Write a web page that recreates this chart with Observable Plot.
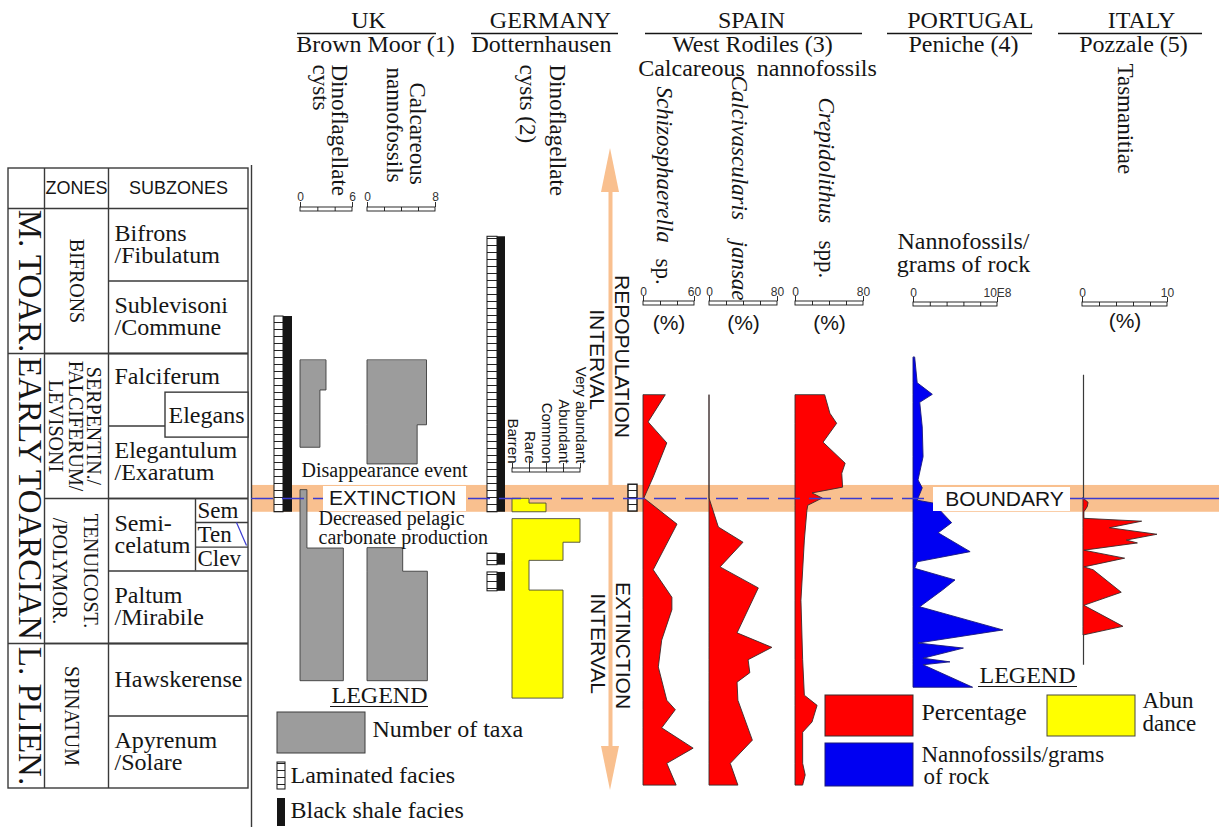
<!DOCTYPE html>
<html>
<head>
<meta charset="utf-8">
<title>Early Toarcian extinction and repopulation of marine microplankton</title>
<script src="https://cdn.jsdelivr.net/npm/d3@7"></script>
<script src="https://cdn.jsdelivr.net/npm/@observablehq/plot@0.6"></script>
<style>
  html, body { margin: 0; padding: 0; background: #fff; }
  #chart svg { display: block; }
</style>
</head>
<body>
<div id="chart"></div>
<script>
// Stratigraphic heights are in ammonite-subzone units above the base of the
// Apyrenum/Solare subzone (each subzone = 1 unit).

// ---------- ammonite biozonation ----------
const stages = [
  {name: "L. PLIEN.", base: 0, top: 2},
  {name: "EARLY TOARCIAN", base: 2, top: 6},
  {name: "M. TOAR.", base: 6, top: 8}
];
const zones = [
  {lines: ["SPINATUM"], base: 0, top: 2},
  {lines: ["TENUICOST.", "/POLYMOR."], base: 2, top: 4},
  {lines: ["SERPENTIN./", "FALCIFERUM/", "LEVISONI"], base: 4, top: 6},
  {lines: ["BIFRONS"], base: 6, top: 8}
];
const subzones = [
  {name: "Apyrenum\n/Solare", base: 0, top: 1},
  {name: "Hawskerense", base: 1, top: 2},
  {name: "Paltum\n/Mirabile", base: 2, top: 3},
  {name: "Semi-\ncelatum", base: 3, top: 4},
  {name: "Elegantulum\n/Exaratum", base: 4, top: 5},
  {name: "Falciferum", base: 5, top: 6},
  {name: "Sublevisoni\n/Commune", base: 6, top: 7},
  {name: "Bifrons\n/Fibulatum", base: 7, top: 8}
];
const semicelatumHorizons = [
  {name: "Clev", base: 3, top: 3.33},
  {name: "Ten", base: 3.33, top: 3.67},
  {name: "Sem", base: 3.67, top: 4}
];
const elegans = [{name: "Elegans", base: 4.84, top: 5.46}];
const tableHeads = ["ZONES", "SUBZONES"];

// ---------- sections ----------
const countries = ["UK", "GERMANY", "SPAIN", "PORTUGAL", "ITALY"];
const sections = ["Brown Moor (1)", "Dotternhausen", "West Rodiles (3)", "Peniche (4)", "Pozzale (5)"];

// extinction boundary interval and the boundary itself
const boundaryBand = [{base: 3.81, top: 4.18}];
const boundaryLevel = 4;

// facies logs [top, base]
const brownMoorFacies = [{top: 6.51, base: 3.81}];
const dotternhausenFacies = [{top: 7.61, base: 3.81}, {top: 3.24, base: 3.08}, {top: 2.98, base: 2.72}];
const rodilesFacies = [{top: 4.19, base: 3.82}];

// Brown Moor number of taxa: blocks of [top, base, taxa]
const brownMoorDinocysts = [
  [[5.90, 5.49, 3], [5.49, 4.70, 2.3]],
  [[4.11, 3.31, 0.8], [3.31, 1.48, 5]]
];
const brownMoorNannofossils = [
  [[5.90, 5.01, 7], [5.01, 4.47, 5.9]],
  [[3.31, 2.99, 4.2], [2.99, 1.48, 7.1]]
];

// Dotternhausen dinocyst abundance class: blocks of [top, base, class]
const abundanceClasses = ["Barren", "Rare", "Common", "Abundant", "Very abundant"];
const dotternhausenAbundance = [
  [[3.99, 3.93, 1], [3.93, 3.81, 2]],
  [[3.71, 3.39, 4], [3.39, 3.14, 3], [3.14, 2.73, 1], [2.73, 1.24, 3]]
];

// West Rodiles calcareous nannofossils, [height, %]
const schizosphaerella = [
  [5.42, 26], [5.05, 6], [4.76, 28], [4.29, 12], [4.00, 1], [3.64, 40], [3.01, 12],
  [2.63, 34], [2.46, 34], [2.04, 22], [1.67, 18], [1.21, 28], [1.08, 38], [0.83, 22],
  [0.55, 59], [0.34, 28], [0.04, 39]
];
const calcivascularis = [
  [5.42, 0], [4.00, 0], [3.60, 11], [3.39, 40], [3.05, 13], [2.76, 58], [2.14, 33],
  [1.94, 74], [1.77, 46], [1.59, 48], [1.46, 33], [1.21, 34], [0.66, 51], [0.34, 25],
  [0.04, 34]
];
const crepidolithus = [
  [5.42, 35], [5.17, 41], [5.03, 49], [4.77, 33], [4.48, 59], [4.34, 55], [4.15, 56],
  [4.07, 20], [4.00, 32], [3.90, 15], [3.83, 14], [3.42, 11], [2.59, 7], [1.77, 9],
  [1.28, 11], [1.14, 26], [0.91, 20], [0.77, 9], [0.34, 9], [0.18, 12], [0.04, 9]
];

// Peniche nannofossils per gram of rock, [height, x10^8]
const peniche = [
  [5.94, 0.2], [5.59, 0.5], [5.43, 2.3], [5.32, 0.8], [4.98, 1.1], [4.57, 1.2], [4.25, 0.6],
  [4.14, 1.1], [3.97, 0.5], [3.93, 2.4], [3.66, 4.6], [3.52, 3.0], [3.26, 6.8], [3.12, 0.5],
  [3.03, 0.2], [2.87, 5.0], [2.73, 3.5], [2.50, 0.8], [2.18, 10.7], [2.00, 0.6], [1.93, 6.0],
  [1.79, 1.2], [1.74, 4.4], [1.70, 1.2], [1.39, 7.1]
];

// Pozzale Tasmanitiae, [height, %]
const pozzaleRange = [1.70, 5.70];
const pozzale = [
  [4.00, 0], [3.94, 0.6], [3.88, 0.5], [3.81, 0.1], [3.72, 0.1], [3.68, 6.9], [3.59, 3.1],
  [3.50, 8.7], [3.42, 5.1], [3.38, 6.4], [3.28, 0.1], [3.17, 4.9], [3.05, 0.1], [3.01, 1.2],
  [2.70, 4.5], [2.52, 0.1], [2.23, 4.7], [2.11, 0]
];

// ---------- layout & style ----------
const W = 1219, H = 827;
const INK = "#151515", LINE = "#3a3a3a";
const ORANGE = "#f9c08f", RED = "#ff0000", BLUE = "#0000f2", YELLOW = "#ffff00", GRAY = "#9c9c9c";
const RULE_BLUE = "#3b3bd0";
const SERIF = "'Liberation Serif','Times New Roman',serif";
const SANS = "'Liberation Sans',Arial,sans-serif";
const NARROW = "'Liberation Sans Narrow','Liberation Sans',Arial,sans-serif";

const yScale = Plot.scale({y: {domain: [0, 8], range: [788, 208]}});
const at = py => yScale.invert(py);   // page offset -> stratigraphic height

const panels = {
  ukDino:  {x0: 300,  w: 52, max: 6,  div: 3, barY: 207, labelY: 197},
  ukNanno: {x0: 367,  w: 68, max: 8,  div: 4, barY: 207, labelY: 197},
  deAbund: {x0: 512,  w: 68, max: 4,  div: 4, barY: 468},
  schizo:  {x0: 643,  w: 51, max: 60, div: 3, barY: 301, labelY: 292, unitY: 323},
  calci:   {x0: 709,  w: 68, max: 80, div: 4, barY: 301, labelY: 292, unitY: 323},
  crepi:   {x0: 795,  w: 68, max: 80, div: 4, barY: 301, labelY: 292, unitY: 323},
  peniche: {x0: 913,  w: 84, max: 10, div: 5, barY: 302, labelY: 293, maxLabel: "10E8"},
  pozzale: {x0: 1082, w: 85, max: 10, div: 5, barY: 302, labelY: 293, unitY: 321}
};
const px = (p, v) => p.x0 + v * p.w / p.max;

const T = {l: 8, c1: 44, c2: 108, r: 248, top: at(168), ex: 165, sx: 195};

const marks = [];
const add = (...m) => marks.push(...m.flat());

function label(items, o = {}) {
  return Plot.text(items, {x: "x", y: d => at(d.py), text: "t", fill: INK,
    fontFamily: SERIF, fontSize: 24, ...o});
}
function profile(points, p) {
  return points.map(([h, v]) => ({h, a: p.x0, b: px(p, v)}));
}
function steps(block, p) {
  return block.flatMap(([top, base, v]) => [{h: top, a: p.x0, b: px(p, v)}, {h: base, a: p.x0, b: px(p, v)}]);
}
function area(data, fill, stroke) {
  return Plot.areaX(data, {y: "h", x1: "a", x2: "b", fill, stroke, strokeWidth: 0.9, strokeLinejoin: "miter"});
}
function scaleBar(p, upTicks = false) {
  const yTop = at(p.barY), yBot = at(p.barY + 4);
  const inner = d3.range(1, p.div).map(i => p.x0 + i * p.w / p.div);
  const ends = upTicks ? d3.range(0, p.div + 1).map(i => p.x0 + i * p.w / p.div) : [p.x0, p.x0 + p.w];
  return [
    Plot.rect([p], {x1: p.x0, x2: p.x0 + p.w, y1: yBot, y2: yTop, fill: "white", stroke: INK, strokeWidth: 0.9}),
    Plot.ruleX(inner, {y1: yBot, y2: yTop, stroke: INK, strokeWidth: 0.9}),
    Plot.ruleX(ends, {y1: yTop, y2: at(p.barY - 5), stroke: INK, strokeWidth: 0.9})
  ];
}
function scaleLabels(p) {
  const out = [label([{t: "0", x: p.x0, py: p.labelY}, {t: p.maxLabel ?? String(p.max), x: p.x0 + p.w, py: p.labelY}],
    {fontFamily: SANS, fontSize: 12, fill: "#333"})];
  if (p.unitY) out.push(label([{t: "(%)", x: p.x0 + p.w / 2, py: p.unitY}], {fontFamily: SANS, fontSize: 21}));
  return out;
}

// ---------- extinction boundary band and interval arrow ----------
add(Plot.rect(boundaryBand, {x1: 251, x2: W, y1: "base", y2: "top", fill: ORANGE}));
add(Plot.ruleX([610], {y1: at(186), y2: at(752), stroke: ORANGE, strokeWidth: 4}));
add(area([{h: at(148), a: 610, b: 610}, {h: at(192), a: 601, b: 619}], ORANGE, "none"));
add(area([{h: at(746), a: 601, b: 619}, {h: at(790), a: 610, b: 610}], ORANGE, "none"));

// ---------- biozonation table ----------
add(Plot.rect([0], {x1: T.l, x2: T.r, y1: 0, y2: T.top, fill: "white", stroke: LINE, strokeWidth: 1.4}));
const hLines = [
  {h: 8, x1: T.l, x2: T.r},
  ...stages.slice(0, -1).map(d => ({h: d.top, x1: T.l, x2: T.r})),
  ...zones.slice(0, -1).map(d => ({h: d.top, x1: T.c1, x2: T.r})),
  ...subzones.slice(0, -1).map(d => ({h: d.top, x1: T.c2, x2: d.top === 5 ? T.ex : T.r})),
  ...semicelatumHorizons.slice(0, -1).map(d => ({h: d.top, x1: T.sx, x2: T.r}))
];
add(Plot.ruleY(hLines, {y: "h", x1: "x1", x2: "x2", stroke: LINE, strokeWidth: 1.4}));
add(Plot.ruleX([T.c1, T.c2], {y1: 0, y2: T.top, stroke: LINE, strokeWidth: 1.4}));
add(Plot.ruleX([T.sx], {y1: 3, y2: 4, stroke: LINE, strokeWidth: 1.4}));
add(Plot.rect(elegans, {x1: T.ex, x2: T.r, y1: "base", y2: "top", fill: "white", stroke: LINE, strokeWidth: 1.4}));
add(Plot.link([0], {x1: 236, y1: at(522), x2: 246, y2: at(545), stroke: RULE_BLUE, strokeWidth: 1.2}));
add(Plot.ruleX([251], {y1: at(165), y2: at(H), stroke: LINE, strokeWidth: 1.4}));

add(label(tableHeads.map((t, i) => ({t, x: [76, 178][i], py: 188})), {fontFamily: NARROW, fontSize: 18}));
add(Plot.text(stages, {x: 29, y: d => (d.base + d.top) / 2, text: "name", rotate: 90, fontSize: 33,
  fontFamily: SERIF, fill: INK}));
const zoneLineX = [[71], [90, 59], [93, 75, 55], [76]];
add(Plot.text(zones.flatMap((z, i) => z.lines.map((t, j) => ({t, x: zoneLineX[i][j], h: (z.base + z.top) / 2}))),
  {x: "x", y: "h", text: "t", rotate: 90, fontSize: 20, fontFamily: SERIF, fill: INK}));
add(Plot.text(subzones, {x: 114, y: d => d.name === "Falciferum" ? at(376) : (d.base + d.top) / 2, text: "name",
  textAnchor: "start", fontSize: 24, lineHeight: 0.92, fontFamily: SERIF, fill: INK}));
add(Plot.text(semicelatumHorizons, {x: 197, y: d => (d.base + d.top) / 2, text: "name", textAnchor: "start",
  fontSize: 23, fontFamily: SERIF, fill: INK}));
add(Plot.text(elegans, {x: 206, y: d => (d.base + d.top) / 2, text: "name", fontSize: 24, fontFamily: SERIF, fill: INK}));

// ---------- column headings ----------
const headerCols = [{x1: 297, x2: 436}, {x1: 471, x2: 618}, {x1: 645, x2: 862}, {x1: 887, x2: 1032}, {x1: 1058, x2: 1202}];
add(Plot.ruleY(headerCols, {y: at(33), x1: "x1", x2: "x2", stroke: INK, strokeWidth: 1.3}));
add(label(countries.map((t, i) => ({t, x: [368, 550, 751, 970, 1141][i], py: 20}))));
add(label(sections.map((t, i) => ({t, x: [375, 541, 752, 963, 1133][i], py: 44}))));
add(label([{t: "Calcareous\u00a0\u00a0nannofossils", x: 757, py: 68}]));
add(label([
  {t: "Dinoflagellate", x: 339, py: 64}, {t: "cysts", x: 320, py: 64},
  {t: "Calcareous", x: 417, py: 82}, {t: "nannofossils", x: 394, py: 67},
  {t: "Dinoflagellate", x: 557, py: 64}, {t: "cysts (2)", x: 527, py: 64},
  {t: "sp.", x: 663, py: 258}, {t: "spp.", x: 826, py: 240},
  {t: "Tasmanitiae", x: 1125, py: 63}
], {rotate: 90, textAnchor: "start", fontSize: 23}));
add(label([
  {t: "Schizosphaerella", x: 664, py: 86},
  {t: "Calcivascularis", x: 739, py: 75},
  {t: "jansae", x: 739, py: 240},
  {t: "Crepidolithus", x: 826, py: 97}
], {rotate: 90, textAnchor: "start", fontSize: 23, fontStyle: "italic"}));
add(label([{t: "Nannofossils/", x: 963, py: 241}, {t: "grams of rock", x: 963, py: 264}]));

// ---------- scale bars ----------
for (const k of ["ukDino", "ukNanno", "schizo", "calci", "crepi", "peniche", "pozzale"]) {
  add(scaleBar(panels[k]), scaleLabels(panels[k]));
}
add(scaleBar(panels.deAbund, true));
add(label(abundanceClasses.map((t, i) => ({t, x: px(panels.deAbund, i), py: 463})),
  {rotate: 90, textAnchor: "end", fontFamily: SANS, fontSize: 15}));

// ---------- facies logs ----------
const LAM = "url(#laminated)";
function facies(list, xl, xm, xr) {
  return [
    Plot.rect(list, {x1: xl, x2: xm, y1: "base", y2: "top", fill: LAM, stroke: INK, strokeWidth: 1}),
    Plot.rect(list, {x1: xm, x2: xr, y1: "base", y2: "top", fill: INK})
  ];
}
add(facies(brownMoorFacies, 274, 283, 292));
add(facies(dotternhausenFacies, 487, 497, 505));
add(Plot.rect(rodilesFacies, {x1: 628, x2: 637, y1: "base", y2: "top", fill: LAM, stroke: INK, strokeWidth: 1.4}));

// ---------- Brown Moor and Dotternhausen ----------
for (const b of brownMoorDinocysts) add(area(steps(b, panels.ukDino), GRAY, "#3c3c3c"));
for (const b of brownMoorNannofossils) add(area(steps(b, panels.ukNanno), GRAY, "#3c3c3c"));
for (const b of dotternhausenAbundance) add(area(steps(b, panels.deAbund), YELLOW, "#4a4a3a"));

// ---------- West Rodiles, Peniche, Pozzale ----------
add(Plot.ruleX([panels.pozzale.x0 + 1], {y1: pozzaleRange[0], y2: pozzaleRange[1], stroke: LINE, strokeWidth: 1.2}));
add(area(profile(schizosphaerella, panels.schizo), RED, "#3a2a2a"));
add(area(profile(calcivascularis, panels.calci), RED, "#3a2a2a"));
add(area(profile(crepidolithus, panels.crepi), RED, "#3a2a2a"));
add(area(profile(peniche, panels.peniche), BLUE, "#1a1a7a"));
add(area(profile(pozzale, {...panels.pozzale, x0: panels.pozzale.x0 + 1}), RED, "#3a2a2a"));

// ---------- boundary line and labels ----------
add(Plot.ruleY([boundaryLevel], {x1: 251, x2: 1070, stroke: RULE_BLUE, strokeWidth: 1.3, strokeDasharray: "22,9"}));
add(Plot.ruleY([boundaryLevel], {x1: 1070, x2: W, stroke: RULE_BLUE, strokeWidth: 1.3}));
add(Plot.rect([0], {x1: 323, x2: 466, y1: at(511), y2: at(486), fill: "white"}));
add(Plot.rect([0], {x1: 933, x2: 1070, y1: at(511), y2: at(487), fill: "white"}));
add(label([{t: "EXTINCTION", x: 392, py: 498}, {t: "BOUNDARY", x: 1004, py: 499}], {fontFamily: SANS, fontSize: 21}));
add(label([
  {t: "REPOPULATION", x: 621, py: 356}, {t: "INTERVAL", x: 596, py: 359},
  {t: "EXTINCTION", x: 622, py: 645}, {t: "INTERVAL", x: 597, py: 643}
], {rotate: 90, fontFamily: SANS, fontSize: 21}));
add(label([
  {t: "Disappearance event", x: 301, py: 470},
  {t: "Decreased pelagic", x: 318, py: 518},
  {t: "carbonate production", x: 318, py: 537}
], {textAnchor: "start", fontSize: 20}));

// ---------- legends ----------
add(label([{t: "LEGEND", x: 379, py: 695}, {t: "LEGEND", x: 1027, py: 675}]));
add(Plot.ruleY([{h: at(706), x1: 330, x2: 428}, {h: at(686), x1: 978, x2: 1077}], {y: "h", x1: "x1", x2: "x2", stroke: INK, strokeWidth: 1.2}));
add(Plot.rect([0], {x1: 277, x2: 365, y1: at(753), y2: at(712), fill: GRAY, stroke: "#3c3c3c", strokeWidth: 1}));
add(Plot.rect([0], {x1: 277, x2: 285, y1: at(789), y2: at(762), fill: LAM, stroke: INK, strokeWidth: 1}));
add(Plot.rect([0], {x1: 277, x2: 285, y1: at(826), y2: at(798), fill: INK}));
add(Plot.rect([0], {x1: 825, x2: 913, y1: at(736), y2: at(695), fill: RED, stroke: "#3a2a2a", strokeWidth: 1}));
add(Plot.rect([0], {x1: 825, x2: 913, y1: at(786), y2: at(743), fill: BLUE, stroke: "#1a1a7a", strokeWidth: 1}));
add(Plot.rect([0], {x1: 1047, x2: 1135, y1: at(736), y2: at(695), fill: YELLOW, stroke: "#4a4a3a", strokeWidth: 1}));
add(label([
  {t: "Number of taxa", x: 372, py: 729},
  {t: "Laminated facies", x: 290, py: 775},
  {t: "Black shale facies", x: 290, py: 810},
  {t: "Percentage", x: 921, py: 712}
], {textAnchor: "start"}));
add(label([
  {t: "Nannofossils/grams", x: 921, py: 754},
  {t: "of rock", x: 923, py: 776},
  {t: "Abun", x: 1142, py: 700},
  {t: "dance", x: 1142, py: 723}
], {textAnchor: "start", fontSize: 23}));

const svg = Plot.plot({
  width: W,
  height: H,
  margin: 0,
  x: {domain: [0, W], range: [0, W], axis: null},
  y: {domain: [0, 8], range: [788, 208], axis: null},
  style: {background: "white", fontFamily: SERIF, overflow: "visible"},
  marks
});

// hatch pattern for laminated facies
const defs = d3.select(svg).insert("defs", ":first-child");
const pat = defs.append("pattern").attr("id", "laminated")
  .attr("patternUnits", "userSpaceOnUse").attr("width", 20).attr("height", 7);
pat.append("rect").attr("width", 20).attr("height", 7).attr("fill", "white");
pat.append("line").attr("x1", 0).attr("x2", 20).attr("y1", 0.5).attr("y2", 0.5)
  .attr("stroke", "#222").attr("stroke-width", 1);

document.getElementById("chart").append(svg);
</script>
</body>
</html>
